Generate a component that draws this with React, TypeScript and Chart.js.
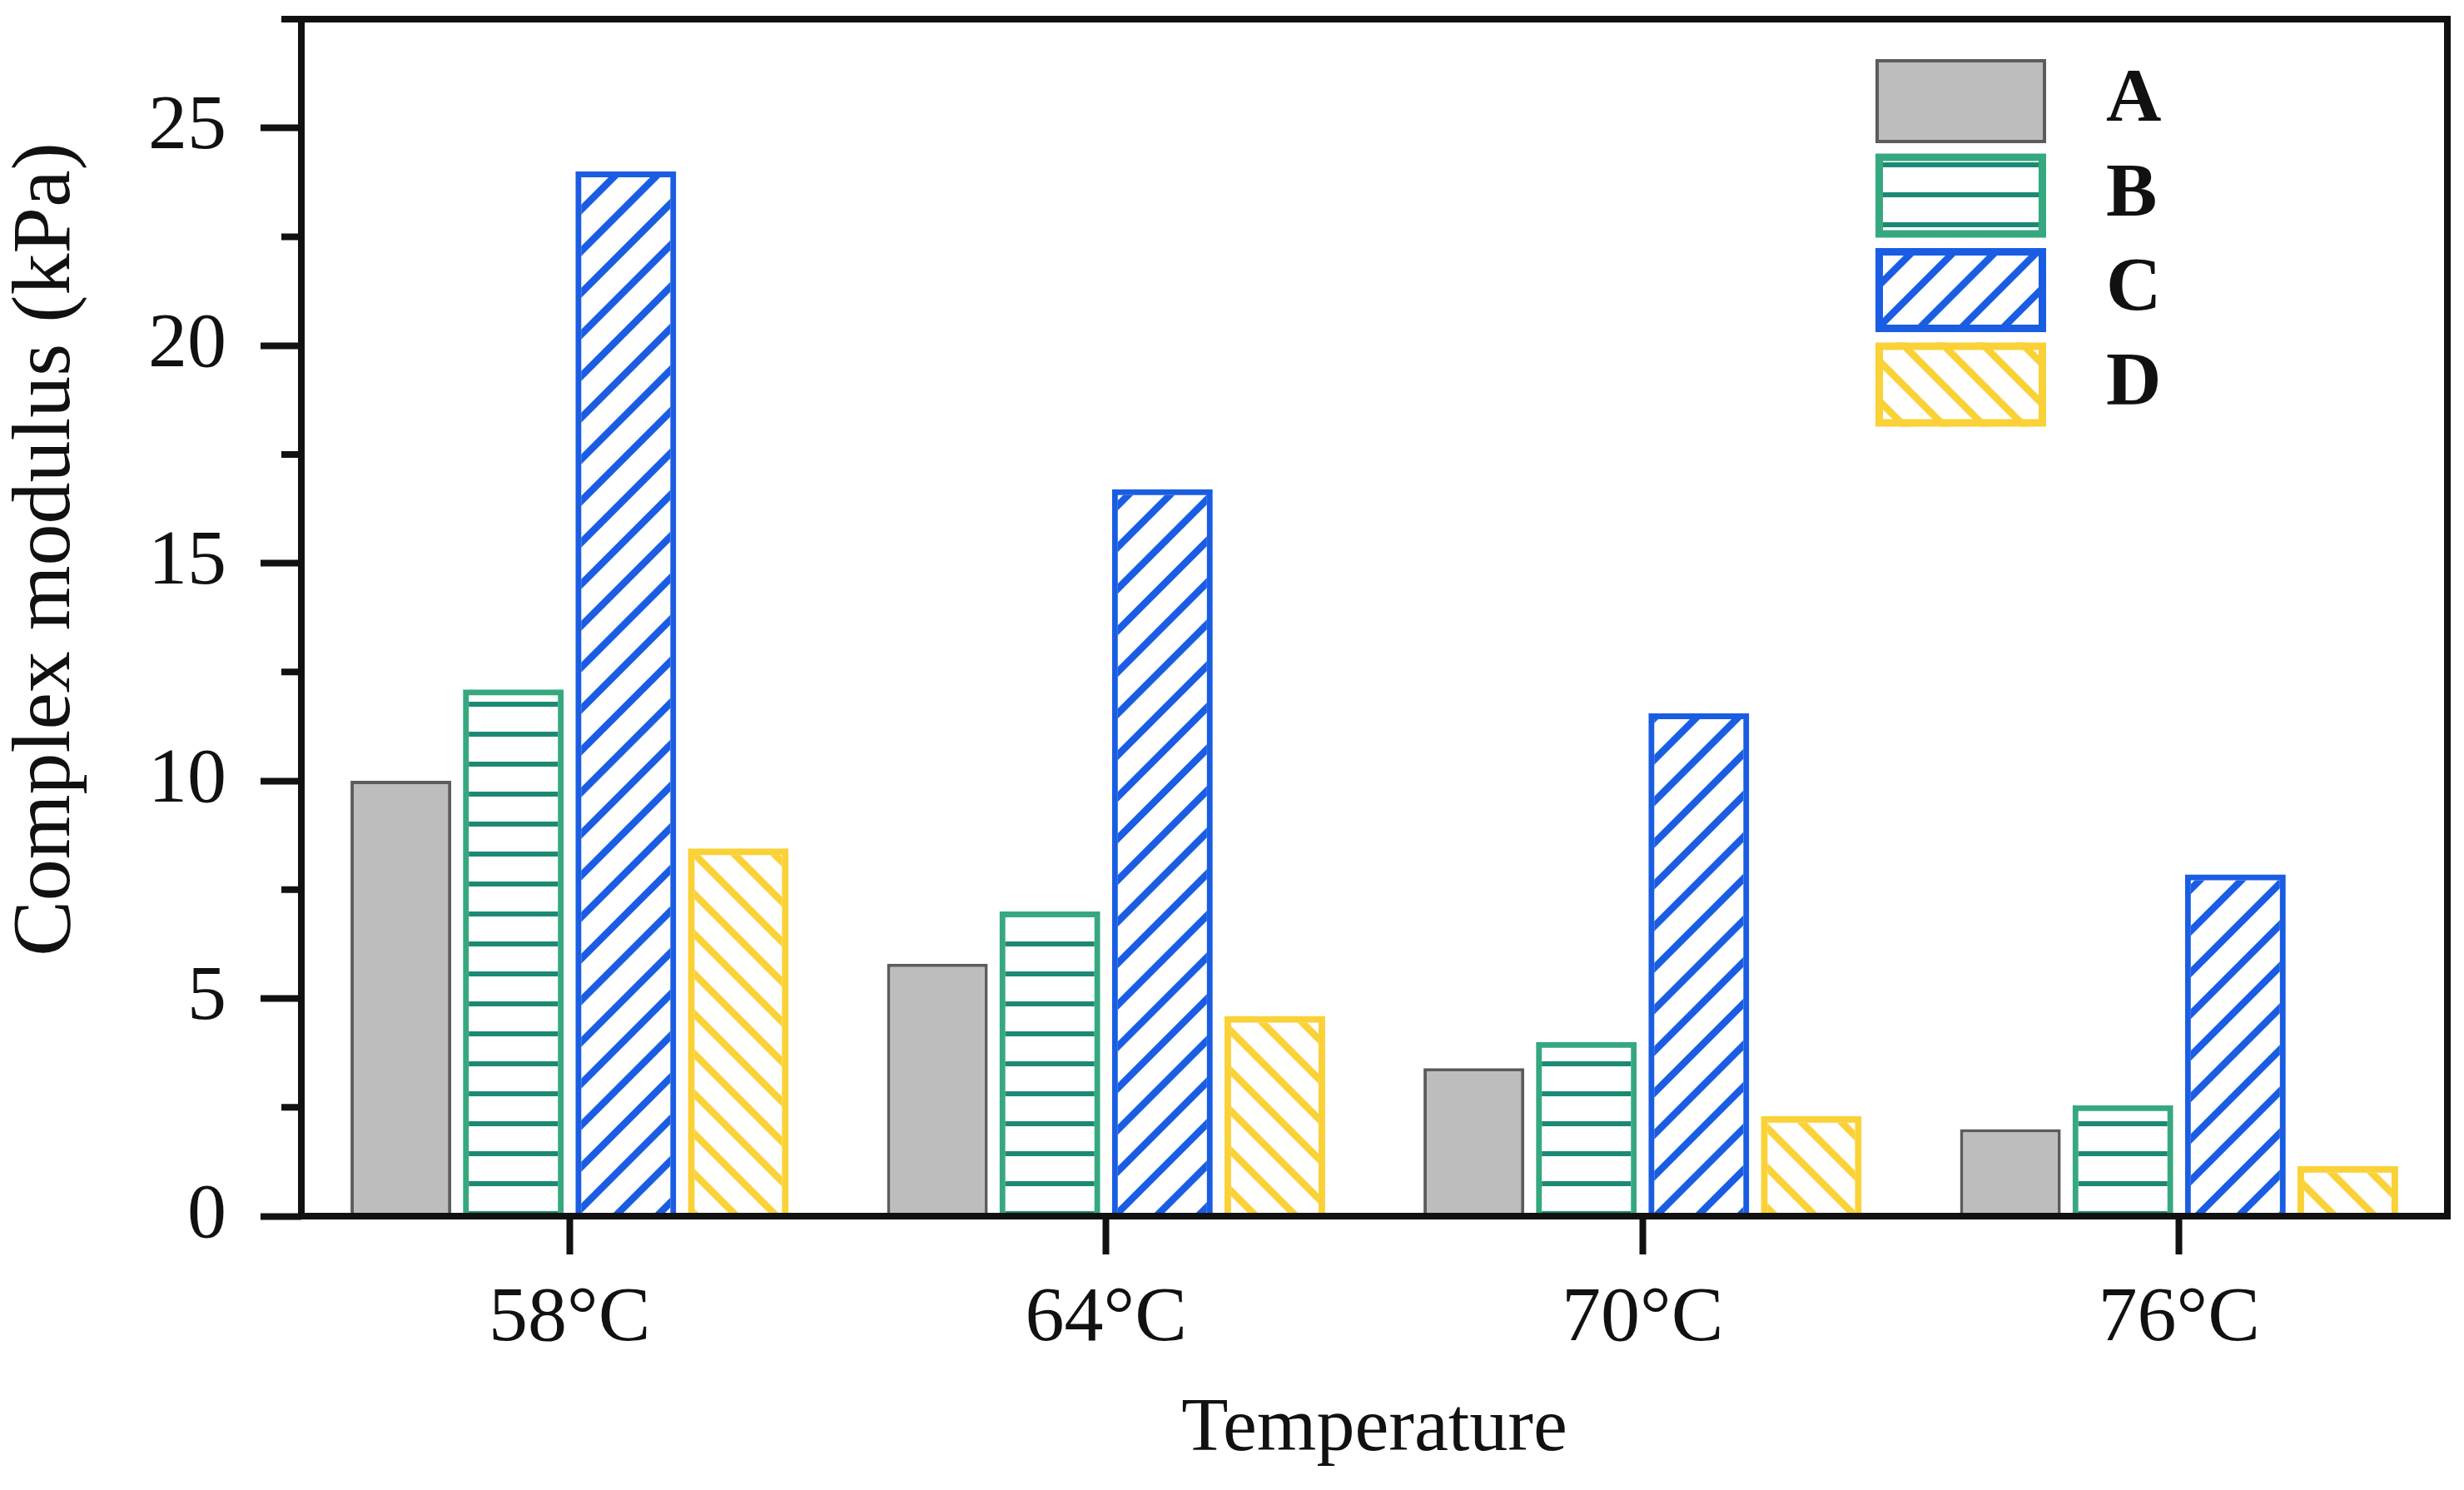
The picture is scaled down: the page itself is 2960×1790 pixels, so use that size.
import { useEffect, useRef } from "react";
import { Chart, registerables } from "chart.js";

Chart.register(...registerables);

const categories = ["58°C", "64°C", "70°C", "76°C"];
const seriesNames = ["A", "B", "C", "D"];
const valuesA = [10.0, 5.8, 3.4, 2.0];
const valuesB = [12.1, 7.0, 4.0, 2.55];
const valuesC = [24.0, 16.7, 11.55, 7.85];
const valuesD = [8.45, 4.6, 2.3, 1.15];
const yTicks = [0, 5, 10, 15, 20, 25];
const yMinorTicks = [2.5, 7.5, 12.5, 17.5, 22.5, 27.5];

const FONT = "'Liberation Serif', 'Times New Roman', serif";
const INK = "#111111";

// seamless hatch tiles, coverage computed per pixel so tile edges don't show
const makePattern = (kind: "h" | "fwd" | "back", color: string, size: number, lw: number) => {
  const c = document.createElement("canvas");
  c.width = size;
  c.height = size;
  const g = c.getContext("2d")!;
  const img = g.createImageData(size, size);
  const r = parseInt(color.slice(1, 3), 16);
  const gr = parseInt(color.slice(3, 5), 16);
  const b = parseInt(color.slice(5, 7), 16);
  for (let y = 0; y < size; y++) {
    for (let x = 0; x < size; x++) {
      const px = x + 0.5;
      const py = y + 0.5;
      let d: number;
      if (kind === "h") {
        d = Math.abs(py - size / 2);
      } else {
        const t = kind === "fwd" ? px + py : px - py;
        const m = ((t % size) + size) % size;
        d = Math.min(m, size - m) / Math.SQRT2;
      }
      const a = Math.max(0, Math.min(1, lw / 2 - d + 0.5));
      const k = (y * size + x) * 4;
      img.data[k] = r;
      img.data[k + 1] = gr;
      img.data[k + 2] = b;
      img.data[k + 3] = Math.round(a * 255);
    }
  }
  g.putImageData(img, 0, 0);
  return g.createPattern(c, "repeat")!;
};

const framePlugin = {
  id: "frame",
  afterDatasetsDraw(chart: any) {
    const { ctx, chartArea } = chart;
    const y = chart.scales.y;
    ctx.save();
    ctx.strokeStyle = INK;
    ctx.lineWidth = 8;
    ctx.strokeRect(chartArea.left, chartArea.top, chartArea.right - chartArea.left, chartArea.bottom - chartArea.top);
    // minor ticks on the value axis
    ctx.beginPath();
    for (const v of yMinorTicks) {
      const py = y.getPixelForValue(v);
      ctx.moveTo(chartArea.left - 24, py);
      ctx.lineTo(chartArea.left, py);
    }
    ctx.stroke();
    ctx.restore();
  },
  afterDraw(chart: any) {
    const { ctx, chartArea } = chart;
    ctx.save();
    // y title
    ctx.translate(57, 660);
    ctx.rotate(-Math.PI / 2);
    ctx.font = `100px ${FONT}`;
    ctx.fillStyle = INK;
    ctx.textAlign = "center";
    ctx.textBaseline = "middle";
    ctx.fillText("Complex modulus (kPa)", 0, 0);
    ctx.restore();

    // legend
    ctx.save();
    const bx = chartArea.right - 687;
    const by0 = chartArea.top + 48;
    const bw = 205;
    const bh = 101;
    const pitch = 113.5;
    chart.data.datasets.forEach((ds: any, i: number) => {
      const by = by0 + i * pitch;
      ctx.fillStyle = ds.backgroundColor;
      ctx.fillRect(bx, by, bw, bh);
      const lw = i === 0 ? 4 : 9;
      ctx.lineWidth = lw;
      ctx.strokeStyle = ds.borderColor;
      ctx.strokeRect(bx + lw / 2, by + lw / 2, bw - lw, bh - lw);
      ctx.fillStyle = INK;
      ctx.font = `bold 92px ${FONT}`;
      ctx.textAlign = "left";
      ctx.textBaseline = "middle";
      ctx.fillText(ds.label, bx + 277, by + bh / 2);
    });
    ctx.restore();
  },
};

const App = () => {
  const canvasRef = useRef<HTMLCanvasElement>(null);

  useEffect(() => {
    if (!canvasRef.current) return;

    const chart = new Chart(canvasRef.current, {
      type: "bar",
      data: {
        labels: categories,
        datasets: [
          { label: seriesNames[0], data: valuesA, backgroundColor: "#bdbdbd", borderColor: "#5c5c5c", borderWidth: 4 },
          {
            label: seriesNames[1],
            data: valuesB,
            backgroundColor: makePattern("h", "#1c8a73", 36, 6),
            borderColor: "#36a87f",
            borderWidth: 7,
          },
          {
            label: seriesNames[2],
            data: valuesC,
            backgroundColor: makePattern("fwd", "#1a5de3", 50, 8.5),
            borderColor: "#1a5de3",
            borderWidth: 7,
          },
          {
            label: seriesNames[3],
            data: valuesD,
            backgroundColor: makePattern("back", "#fad137", 48, 8.5),
            borderColor: "#fad137",
            borderWidth: 8,
          },
        ],
      },
      options: {
        animation: false,
        responsive: false,
        devicePixelRatio: 1,
        layout: { padding: { top: 23, right: 20, left: 0, bottom: 0 } },
        datasets: {
          bar: { categoryPercentage: 0.8385, barPercentage: 0.896 },
        },
        plugins: {
          legend: { display: false },
          tooltip: { enabled: false },
        },
        scales: {
          x: {
            type: "category",
            offset: true,
            grid: {
              offset: false,
              drawOnChartArea: false,
              tickLength: 46,
              tickWidth: 8,
              tickColor: INK,
            },
            border: { display: false },
            ticks: {
              color: INK,
              font: { family: FONT, size: 94 },
              padding: 22,
              maxRotation: 0,
              autoSkip: false,
            },
            title: {
              display: true,
              text: "Temperature",
              color: INK,
              font: { family: FONT, size: 92 },
              padding: { top: 0, bottom: 17 },
            },
            afterFit: (s: any) => {
              s.height = 329;
              s.paddingLeft = 0;
              s.paddingRight = 0;
            },
          },
          y: {
            type: "linear",
            min: 0,
            max: 27.5,
            grid: {
              drawOnChartArea: false,
              tickLength: 49,
              tickWidth: 8,
              tickColor: INK,
            },
            border: { display: false },
            ticks: {
              color: INK,
              font: { family: FONT, size: 94 },
              padding: 41,
            },
            afterBuildTicks: (s: any) => {
              s.ticks = yTicks.map((v) => ({ value: v }));
            },
            afterFit: (s: any) => {
              s.width = 362;
              s.paddingTop = 0;
              s.paddingBottom = 0;
            },
          },
        },
      },
      plugins: [framePlugin],
    });

    return () => {
      chart.destroy();
    };
  }, []);

  return (
    <div style={{ position: "absolute", left: 0, top: 0, width: 2960, height: 1790, background: "#fff" }}>
      <canvas ref={canvasRef} width={2960} height={1790} />
    </div>
  );
};

export default App;
